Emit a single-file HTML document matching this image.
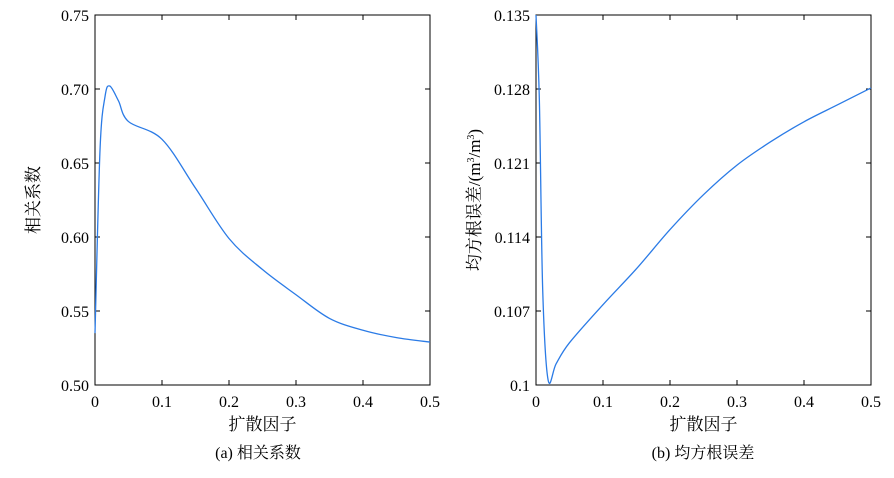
<!DOCTYPE html>
<html><head><meta charset="utf-8"><style>
body{margin:0;background:#fff}
svg text{font-family:"Liberation Serif","Noto Serif CJK SC",serif;fill:#000}
</style></head><body>
<svg width="894" height="473" viewBox="0 0 894 473">
<g id="chartA"></g>
<g id="chartB"></g>
</svg>
<script>
const xsA=[0,0.0075,0.015,0.022,0.035,0.05,0.1,0.15,0.2,0.25,0.3,0.35,0.4,0.45,0.5];
const ysA=[0.535,0.659,0.695,0.702,0.692,0.678,0.666,0.633,0.599,0.578,0.561,0.545,0.537,0.532,0.529];
const ticksYA=["0.50","0.55","0.60","0.65","0.70","0.75"];
const xsB=[0,0.005,0.01,0.018,0.03,0.05,0.1,0.15,0.2,0.25,0.3,0.35,0.4,0.45,0.5];
const ysB=[0.135,0.127,0.109,0.1005,0.102,0.104,0.1076,0.111,0.1147,0.118,0.1208,0.123,0.1249,0.1265,0.1281];
const ticksYB=["0.1","0.107","0.114","0.121","0.128","0.135"];
const ticksX=["0","0.1","0.2","0.3","0.4","0.5"];
const NS="http://www.w3.org/2000/svg";
function mk(p,t,a){const e=document.createElementNS(NS,t);for(const k in a)e.setAttribute(k,a[k]);p.appendChild(e);return e;}
function draw(g,L,R,ymin,ymax,xs,ys,ticksY,ylab,cap,capX){
 const T=15,B=385;
 const sx=v=>L+(R-L)*v/0.5, sy=v=>B-(B-T)*(v-ymin)/(ymax-ymin);
 const fr=mk(g,'rect',{x:L,y:T,width:R-L,height:B-T,fill:'none',stroke:'#000','stroke-width':1});
 
 
 ticksX.forEach(t=>{const x=sx(+t);
  mk(g,'line',{x1:x,x2:x,y1:B,y2:B-5,stroke:'#000'});
  mk(g,'line',{x1:x,x2:x,y1:T,y2:T+5,stroke:'#000'});
  const tx=mk(g,'text',{x:x,y:B+22,'font-size':16,'text-anchor':'middle'});tx.textContent=t;
  
  });
 ticksY.forEach(t=>{const y=sy(+t);
  mk(g,'line',{x1:L,x2:L+5,y1:y,y2:y,stroke:'#000'});
  mk(g,'line',{x1:R,x2:R-5,y1:y,y2:y,stroke:'#000'});
  const tx=mk(g,'text',{x:L-6,y:y+6,'font-size':16,'text-anchor':'end'});tx.textContent=t;
  
  });
 const P=xs.map((v,i)=>[sx(v),sy(ys[i])]);
 let d='M'+P[0][0]+','+P[0][1];
 for(let i=0;i<P.length-1;i++){const p0=P[Math.max(0,i-1)],p1=P[i],p2=P[i+1],p3=P[Math.min(P.length-1,i+2)];
  const c1=[p1[0]+(p2[0]-p0[0])/6,p1[1]+(p2[1]-p0[1])/6],c2=[p2[0]-(p3[0]-p1[0])/6,p2[1]-(p3[1]-p1[1])/6];
  d+=' C'+c1+' '+c2+' '+p2;}
 const ln=mk(g,'path',{d:d,fill:'none',stroke:'#2b7be6','stroke-width':1.3});
 
 
 const xl=mk(g,'text',{x:(L+R)/2,y:430,'font-size':17,'text-anchor':'middle'});xl.textContent='扩散因子';
 
 
 const yl=mk(g,'text',{x:0,y:0,'font-size':17,'text-anchor':'middle',transform:`translate(${L-56},${(T+B)/2}) rotate(-90)`});yl.innerHTML=ylab;
 
 
 const c=mk(g,'text',{x:capX,y:458,'font-size':16,'text-anchor':'middle'});c.textContent=cap;
 
 
}
draw(document.getElementById('chartA'),95,430,0.5,0.75,xsA,ysA,ticksYA,'相关系数','(a) 相关系数',258);
draw(document.getElementById('chartB'),536,871,0.1,0.135,xsB,ysB,ticksYB,'均方根误差/(m<tspan font-size="10" dy="-6">3</tspan><tspan dy="6">/m</tspan><tspan font-size="10" dy="-6">3</tspan><tspan dy="6">)</tspan>','(b) 均方根误差',703);
</script>
</body></html>
